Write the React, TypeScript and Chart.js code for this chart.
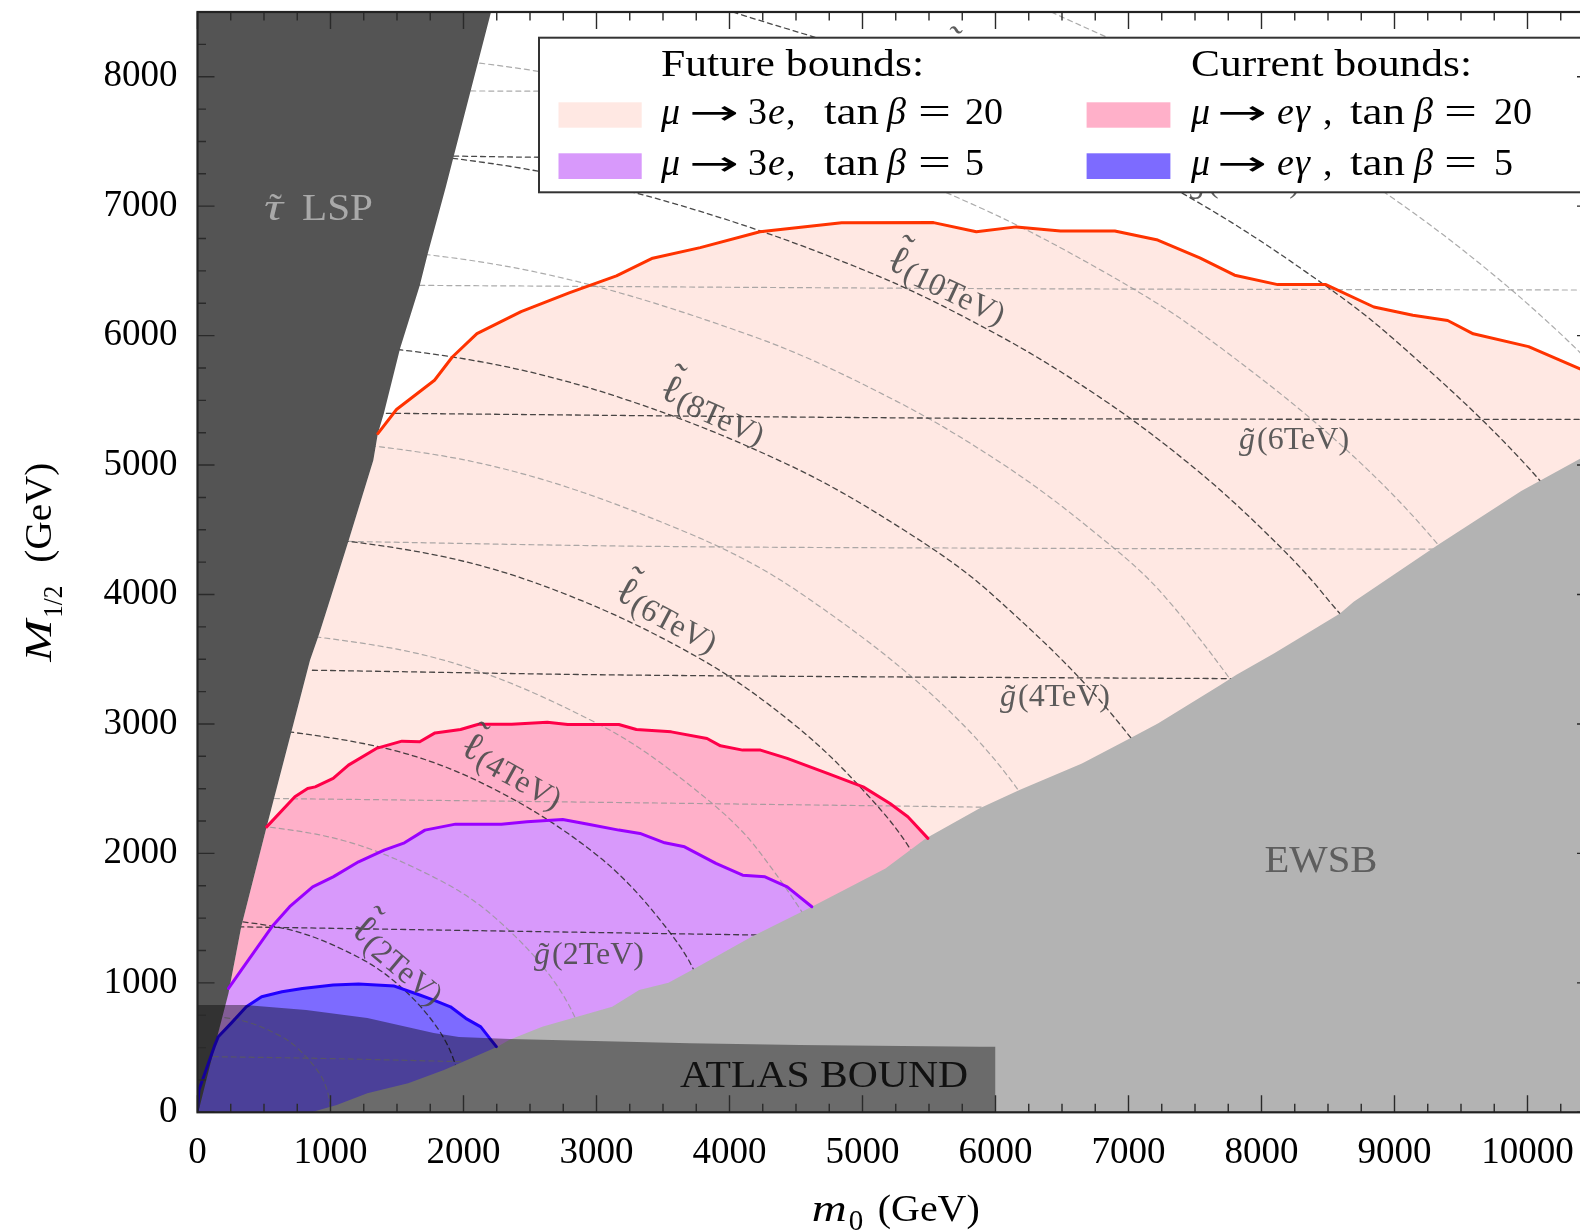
import React, { useEffect, useRef } from "react";
import { Chart, registerables } from "chart.js";

Chart.register(...registerables);

type P = [number, number];

// ---------------- axes ----------------
const X_MIN = 0;
const X_MAX = 10500;
const Y_MIN = 0;
const Y_MAX = 8500;
const xTickValues = [0, 1000, 2000, 3000, 4000, 5000, 6000, 7000, 8000, 9000, 10000];
const yTickValues = [0, 1000, 2000, 3000, 4000, 5000, 6000, 7000, 8000];
const MAJOR_STEP = 1000;
const MINOR_STEP = 250;

// ---------------- regions (m0 [GeV], M1/2 [GeV]) ----------------
const stauBoundary: P[] = [[0,0],[14,33],[129,507],[233,919],[329,1433],[520,2205],[781,3236],[846,3493],[916,3699],[1003,3981],[1137,4419],[1322,5037],[1356,5243],[1401,5398],[1523,5900],[1671,6388],[1731,6633],[1867,7148],[1925,7379],[2207,8500]];

const ewsbBoundary: P[] = [[855,0],[1047,56],[1277,147],[1584,224],[1853,327],[2083,429],[2255,507],[2342,558],[2592,661],[3118,815],[3321,944],[3541,1000],[3790,1140],[4166,1356],[4619,1588],[5173,1884],[5475,2116],[5878,2347],[6180,2489],[6650,2695],[6984,2875],[7221,3004],[7691,3300],[7812,3380],[8093,3544],[8590,3853],[8693,3945],[9331,4386],[9953,4800],[10395,5048],[10500,5110]];

const atlasBound: P[] = [[0,829],[357,829],[817,790],[1277,728],[1776,612],[1966,581],[2350,566],[3703,533],[4530,520],[5883,507],[6000,507],[6000,0]];

// ---------------- LFV bounds ----------------
const futureTan20: P[] = [[1356,5243],[1496,5429],[1782,5655],[1916,5835],[2101,6015],[2433,6185],[2794,6330],[3150,6462],[3422,6598],[3780,6680],[4229,6802],[4843,6872],[5534,6873],[5856,6803],[6157,6840],[6489,6808],[6897,6808],[7220,6738],[7536,6600],[7798,6467],[8122,6394],[8484,6394],[8845,6221],[9138,6157],[9400,6117],[9592,6014],[10008,5915],[10395,5744],[10500,5700]];

const currentTan20: P[] = [[520,2205],[732,2437],[828,2502],[885,2514],[1020,2579],[1135,2682],[1345,2811],[1537,2867],[1671,2862],[1786,2931],[1978,2957],[2113,2998],[2362,2998],[2630,3014],[2784,2996],[3168,2996],[3300,2957],[3562,2939],[3831,2888],[3932,2831],[4099,2798],[4233,2798],[4434,2734],[4737,2618],[5005,2514],[5207,2386],[5341,2283],[5492,2116]];

const futureTan5: P[] = [[233,957],[329,1099],[559,1433],[693,1588],[866,1742],[1020,1819],[1211,1935],[1403,2026],[1556,2082],[1710,2180],[1940,2226],[2285,2226],[2477,2244],[2746,2262],[2938,2226],[3168,2180],[3327,2154],[3513,2082],[3662,2051],[3898,1923],[4099,1832],[4267,1819],[4434,1742],[4619,1588]];

const currentTan5: P[] = [[0,18],[11,172],[126,507],[156,584],[252,687],[367,815],[482,893],[635,931],[789,957],[1020,983],[1211,991],[1480,975],[1671,906],[1776,867],[1902,815],[2017,726],[2130,660],[2208,558],[2247,507]];

// ---------------- iso-mass contours ----------------
// gluino (nearly horizontal)
const gluino1: P[] = [[117,430],[1000,415],[2100,388]];
const gluino2: P[] = [[310,1433],[2000,1405],[4300,1368]];
const gluino3: P[] = [[578,2424],[3000,2395],[6100,2355]];
const gluino4: P[] = [[864,3415],[3327,3377],[7800,3350]];
const gluino5: P[] = [[1140,4410],[3327,4373],[6034,4358],[9400,4350]];
const gluino6: P[] = [[1420,5400],[6034,5360],[10500,5352]];
const gluino7: P[] = [[1670,6388],[6034,6363],[10500,6352]];
const gluino8: P[] = [[1925,7387],[2568,7378],[10500,7340]];
const gluino9: P[] = [[2054,7890],[10500,7860]];

// slepton (arcs)
const slepton1: P[] = [[71,750],[365,700],[603,600],[747,500],[917,300],[980,150],[1000,0]];
const slepton2: P[] = [[141,1500],[730,1400],[1205,1200],[1494,1000],[1770,700],[1928,400],[2000,0]];
const slepton3: P[] = [[212,2250],[1095,2100],[1808,1800],[2241,1500],[2689,1000],[2925,500],[3000,0]];
const slepton4: P[] = [[283,3000],[1460,2800],[2224,2500],[2987,2000],[3467,1500],[3772,1000],[4000,0]];
const slepton5: P[] = [[353,3750],[1825,3500],[3013,3000],[3734,2500],[4234,2000],[4822,1000],[5000,0]];
const slepton6: P[] = [[424,4500],[1814,4300],[2774,4000],[3786,3500],[4481,3000],[4994,2500],[5378,2000],[5850,1000],[6000,0]];
const slepton7: P[] = [[495,5250],[2186,5000],[3630,4500],[4549,4000],[5751,3000],[6475,2000],[6871,1000],[7000,0]];
const slepton8: P[] = [[565,6000],[2120,5800],[3239,5500],[4447,5000],[5308,4500],[5975,4000],[6934,3000],[7545,2000],[8000,0]];
const slepton9: P[] = [[636,6750],[2503,6500],[4162,6000],[5243,5500],[6065,5000],[6721,4500],[7259,4000],[8000,3000],[8596,2000],[9000,0]];
const slepton10: P[] = [[707,7500],[2395,7300],[3650,7000],[5026,6500],[6027,6000],[6818,5500],[7468,5000],[8010,4500],[8468,4000],[9190,3000],[10000,0]];
const slepton11: P[] = [[777,8250],[2791,8000],[4637,7500],[5859,7000],[6802,6500],[7571,6000],[8762,5000],[9628,4000],[10251,3000]];
const slepton12: P[] = [[4025,8500],[5549,8000],[6671,7500],[7572,7000],[8323,6500],[8964,6000],[9989,5000],[10757,4000]];
const slepton13: P[] = [[6419,8500],[7469,8000],[8337,7500],[9073,7000],[9709,6500],[10263,6000],[10747,5500]];

const darkContours = [gluino2, gluino4, gluino6, gluino8, slepton2, slepton4, slepton6, slepton8, slepton10, slepton12];
const lightContours = [gluino1, gluino3, gluino5, gluino7, gluino9, slepton1, slepton3, slepton5, slepton7, slepton9, slepton11, slepton13];

// contour labels (position in GeV, rotation in degrees)
const sleptonLabels = [
  { text: "(2TeV)", x: 1508, y: 1176, rot: 40 },
  { text: "(4TeV)", x: 2365, y: 2636, rot: 29 },
  { text: "(6TeV)", x: 3530, y: 3840, rot: 28 },
  { text: "(8TeV)", x: 3876, y: 5423, rot: 24 },
  { text: "(10TeV)", x: 5635, y: 6388, rot: 25 },
  { text: "(12TeV)", x: 6004, y: 8010, rot: 23 },
];
const gluinoLabels = [
  { text: "(2TeV)", x: 2944, y: 1207 },
  { text: "(4TeV)", x: 6447, y: 3199 },
  { text: "(6TeV)", x: 8245, y: 5184 },
  { text: "(8TeV)", x: 7876, y: 7168 },
];
const regionLabels = {
  stau: { x: 910, y: 6890 },
  ewsb: { x: 8447, y: 1855 },
  atlas: { x: 4711, y: 195 },
};

// ---------------- styles ----------------
const C = {
  fut20Fill: "#ffe8e3",
  fut20Line: "#ff3300",
  cur20Fill: "#ffb0c9",
  cur20Line: "#ff0048",
  fut5Fill: "#d899fb",
  fut5Line: "#9a00ff",
  cur5Fill: "#7d6bff",
  cur5Line: "#2200ff",
  stau: "#545454",
  ewsb: "#b3b3b3",
  atlas: "rgba(0,0,0,0.4)",
  dark: "rgba(40,40,40,0.85)",
  light: "rgba(150,150,150,0.8)",
};

const FONT = "'Liberation Serif', 'Times New Roman', 'DejaVu Serif', serif";
const SYMFONT = "'DejaVu Sans', 'Liberation Serif', sans-serif";
const fnt = (size: number, italic = false, fam = FONT) => `${italic ? "italic " : ""}${size}px ${fam}`;

const pts = (a: P[]) => a.map(([x, y]) => ({ x, y }));
const stauBelow = (curve: P[]) => stauBoundary.filter((p) => p[0] < curve[0][0]);

function area(label: string, data: P[], color: string, fill: string, order: number) {
  return {
    label, data: pts(data), showLine: true, fill, backgroundColor: color,
    borderColor: "rgba(0,0,0,0)", borderWidth: 0, pointRadius: 0, pointHoverRadius: 0, tension: 0, order,
  };
}
function stroke(label: string, data: P[], color: string, width: number, order: number, dash: number[] = [], tension = 0) {
  return {
    label, data: pts(data), showLine: true, fill: false, borderColor: color, backgroundColor: color,
    borderWidth: width, borderDash: dash, pointRadius: 0, pointHoverRadius: 0, tension, order,
    borderJoinStyle: "round", borderCapStyle: "round",
  };
}

// ---------------- text helpers ----------------
type Tok = { s: string; at?: number; gap?: number; it?: boolean; size?: number; dy?: number; w?: number; tilde?: number; fam?: string };
type LTok = Tok & { size: number; m: number; w: number; x: number };

function layoutToks(ctx: CanvasRenderingContext2D, toks: Tok[], defSize: number) {
  let cx = 0;
  const items: LTok[] = [];
  for (const t of toks) {
    const size = t.size ?? defSize;
    ctx.font = fnt(size, !!t.it, t.fam ?? FONT);
    const m = ctx.measureText(t.s).width || 1;
    const w = t.w ?? m;
    const x = t.at !== undefined ? t.at : cx + (t.gap ?? 0);
    items.push({ ...t, size, m, w, x });
    cx = x + w;
  }
  return { items, width: cx };
}
function paintToks(ctx: CanvasRenderingContext2D, lay: { items: LTok[] }, x0: number, base: number) {
  ctx.textAlign = "left";
  ctx.textBaseline = "alphabetic";
  for (const it of lay.items) {
    const y = base + (it.dy ?? 0);
    ctx.font = fnt(it.size, !!it.it, it.fam ?? FONT);
    ctx.save();
    ctx.translate(x0 + it.x, y);
    ctx.scale(it.w / it.m, 1);
    ctx.fillText(it.s, 0, 0);
    ctx.restore();
    if (it.tilde !== undefined) {
      ctx.font = fnt(it.size, false);
      ctx.textAlign = "center";
      ctx.fillText("\u02DC", x0 + it.x + it.w / 2 + (it.it ? 2 : 0), y + it.tilde);
      ctx.textAlign = "left";
    }
  }
}

const ARROW: Tok = { s: "→", w: 50, size: 34, fam: SYMFONT, dy: 0 };
const row3e = (n: string): Tok[] => [
  { s: "μ", it: true, at: 0 }, { ...ARROW, at: 28 }, { s: "3", at: 87 }, { s: "e", it: true, at: 107 },
  { s: ",", at: 125 }, { s: "tan", at: 163, w: 55 }, { s: "β", it: true, at: 226 }, { s: "=", at: 257, w: 33 }, { s: n, at: 304 },
];
const rowEg = (n: string): Tok[] => [
  { s: "μ", it: true, at: 0 }, { ...ARROW, at: 26 }, { s: "e", it: true, at: 86 }, { s: "γ", it: true, at: 104 },
  { s: ",", at: 132 }, { s: "tan", at: 159, w: 55 }, { s: "β", it: true, at: 223 }, { s: "=", at: 253, w: 33 }, { s: n, at: 303 },
];

const decorPlugin = {
  id: "decor",
  afterDatasetsDraw(chart: any) {
    const ctx: CanvasRenderingContext2D = chart.ctx;
    const xs = chart.scales.x;
    const ys = chart.scales.y;
    const ca = chart.chartArea;
    const px = (v: number) => xs.getPixelForValue(v);
    const py = (v: number) => ys.getPixelForValue(v);

    ctx.save();
    ctx.beginPath();
    ctx.rect(ca.left, ca.top, ca.right - ca.left, ca.bottom - ca.top);
    ctx.clip();

    // region labels
    ctx.fillStyle = "#a9a9a9";
    let lay = layoutToks(ctx, [{ s: "τ", it: true, tilde: 0, w: 19 }, { s: "LSP", gap: 19, w: 71 }], 38);
    paintToks(ctx, lay, px(regionLabels.stau.x) - lay.width / 2, py(regionLabels.stau.y));
    ctx.fillStyle = "#5e5e5e";
    lay = layoutToks(ctx, [{ s: "EWSB", w: 113 }], 38);
    paintToks(ctx, lay, px(regionLabels.ewsb.x) - lay.width / 2, py(regionLabels.ewsb.y));
    ctx.fillStyle = "#111";
    lay = layoutToks(ctx, [{ s: "ATLAS BOUND", w: 288 }], 38);
    paintToks(ctx, lay, px(regionLabels.atlas.x) - lay.width / 2, py(regionLabels.atlas.y));

    // contour labels
    ctx.fillStyle = "rgba(75,75,75,0.9)";
    for (const l of sleptonLabels) {
      const L = layoutToks(ctx, [{ s: "ℓ", size: 40, tilde: -12 }, { s: l.text, size: 32, dy: 4, gap: 1 }], 32);
      ctx.save();
      ctx.translate(px(l.x), py(l.y));
      ctx.rotate((l.rot * Math.PI) / 180);
      paintToks(ctx, L, -L.width / 2, 10);
      ctx.restore();
    }
    for (const l of gluinoLabels) {
      const L = layoutToks(ctx, [{ s: "g", it: true, tilde: 0 }, { s: l.text, gap: 2 }], 32);
      paintToks(ctx, L, px(l.x) - L.width / 2, py(l.y) + 8);
    }
    ctx.restore();

    // legend
    ctx.save();
    const LG = { left: 539, top: 37.7, bottom: 192.3, right: 1640 };
    ctx.fillStyle = "#fff";
    ctx.fillRect(LG.left, LG.top, LG.right - LG.left, LG.bottom - LG.top);
    ctx.strokeStyle = "#333";
    ctx.lineWidth = 2;
    ctx.strokeRect(LG.left, LG.top, LG.right - LG.left, LG.bottom - LG.top);
    ctx.fillStyle = "#000";
    const cols = [
      { head: "Future bounds:", headW: 263, tx: 661, sx: 558.5, sw: 83.2, rows: [{ c: C.fut20Fill, t: row3e("20") }, { c: C.fut5Fill, t: row3e("5") }] },
      { head: "Current bounds:", headW: 281, tx: 1191, sx: 1086.6, sw: 83.8, rows: [{ c: C.cur20Fill, t: rowEg("20") }, { c: C.cur5Fill, t: rowEg("5") }] },
    ];
    const rowY = [{ top: 102.3, h: 25.4, base: 124 }, { top: 153.3, h: 25.7, base: 175 }];
    for (const col of cols) {
      ctx.fillStyle = "#000";
      paintToks(ctx, layoutToks(ctx, [{ s: col.head, w: col.headW }], 38), col.tx, 76);
      col.rows.forEach((r, i) => {
        ctx.fillStyle = r.c;
        ctx.fillRect(col.sx, rowY[i].top, col.sw, rowY[i].h);
        ctx.fillStyle = "#000";
        paintToks(ctx, layoutToks(ctx, r.t, 38), col.tx, rowY[i].base);
      });
    }
    ctx.restore();

    // frame and inward ticks
    ctx.save();
    ctx.strokeStyle = "#2a2a2a";
    ctx.lineWidth = 1.4;
    ctx.beginPath();
    for (let v = X_MIN; v <= X_MAX + 1e-6; v += MINOR_STEP) {
      const L = v % MAJOR_STEP === 0 ? 17 : 8.5;
      const p = px(v);
      ctx.moveTo(p, ca.bottom); ctx.lineTo(p, ca.bottom - L);
      ctx.moveTo(p, ca.top); ctx.lineTo(p, ca.top + L);
    }
    for (let v = Y_MIN; v <= Y_MAX + 1e-6; v += MINOR_STEP) {
      const L = v % MAJOR_STEP === 0 ? 17 : 8.5;
      const p = py(v);
      ctx.moveTo(ca.left, p); ctx.lineTo(ca.left + L, p);
      ctx.moveTo(ca.right, p); ctx.lineTo(ca.right - L, p);
    }
    ctx.stroke();
    ctx.strokeStyle = "#222";
    ctx.lineWidth = 2.2;
    ctx.strokeRect(ca.left, ca.top, ca.right - ca.left, ca.bottom - ca.top);
    ctx.restore();
  },
  afterDraw(chart: any) {
    const ctx: CanvasRenderingContext2D = chart.ctx;
    const ca = chart.chartArea;
    ctx.save();
    ctx.fillStyle = "#000";
    // x title
    const xl = layoutToks(ctx, [{ s: "m", it: true, w: 35 }, { s: "0", size: 29, dy: 9, at: 37 }, { s: "(GeV)", at: 66, w: 102 }], 38);
    paintToks(ctx, xl, (ca.left + ca.right) / 2 - xl.width / 2, 1221);
    // y title
    const yl = layoutToks(ctx, [{ s: "M", it: true, w: 42 }, { s: "1/2", size: 27, dy: 11, at: 44, w: 32 }, { s: "(GeV)", at: 99, w: 100 }], 38);
    ctx.translate(51, (ca.top + ca.bottom) / 2 + yl.width / 2);
    ctx.rotate(-Math.PI / 2);
    paintToks(ctx, yl, 0, 0);
    ctx.restore();
  },
};

export default function App() {
  const ref = useRef<HTMLCanvasElement>(null);
  useEffect(() => {
    const datasets: any[] = [
      area("μ→3e, tanβ=20 (future)", [...stauBelow(futureTan20), ...futureTan20], C.fut20Fill, "start", 100),
      area("μ→eγ, tanβ=20 (current)", [...stauBelow(currentTan20), ...currentTan20], C.cur20Fill, "start", 99),
      area("μ→3e, tanβ=5 (future)", [...stauBelow(futureTan5), ...futureTan5], C.fut5Fill, "start", 98),
      area("μ→eγ, tanβ=5 (current)", [...stauBelow(currentTan5), ...currentTan5], C.cur5Fill, "start", 97),
      ...lightContours.map((c, i) => stroke("light contour " + i, c, C.light, 1.2, 91, [5, 4], 0.35)),
      ...darkContours.map((c, i) => stroke("dark contour " + i, c, C.dark, 1.3, 90, [5, 4], 0.35)),
      area("stau LSP", stauBoundary, C.stau, "end", 80),
      area("EWSB", ewsbBoundary, C.ewsb, "start", 79),
      stroke("future tanβ=20", futureTan20, C.fut20Line, 3, 73),
      stroke("current tanβ=20", currentTan20, C.cur20Line, 3, 72),
      stroke("future tanβ=5", futureTan5, C.fut5Line, 3, 71),
      stroke("current tanβ=5", currentTan5, C.cur5Line, 3, 70),
      area("ATLAS bound", atlasBound, C.atlas, "start", 60),
    ];
    const tickFont = { family: FONT, size: 37 };
    const chart = new Chart(ref.current as HTMLCanvasElement, {
      type: "scatter",
      data: { datasets },
      options: {
        responsive: false,
        maintainAspectRatio: false,
        animation: false,
        devicePixelRatio: 1,
        events: [],
        layout: { padding: { top: 12, right: 6, left: 0, bottom: 0 } },
        plugins: { legend: { display: false }, tooltip: { enabled: false }, title: { display: false } },
        scales: {
          x: {
            type: "linear", min: X_MIN, max: X_MAX,
            grid: { display: false, drawTicks: false }, border: { display: false },
            ticks: { font: tickFont, color: "#000", padding: 19, maxRotation: 0, minRotation: 0, autoSkip: false, callback: (v: any) => String(v) },
            afterBuildTicks: (s: any) => { s.ticks = xTickValues.map((value) => ({ value })); },
            afterFit: (s: any) => { s.height = 118.7; s.paddingLeft = 0; s.paddingRight = 0; },
          },
          y: {
            type: "linear", min: Y_MIN, max: Y_MAX,
            grid: { display: false, drawTicks: false }, border: { display: false },
            ticks: { font: tickFont, color: "#000", padding: 20, autoSkip: false, callback: (v: any) => String(v) },
            afterBuildTicks: (s: any) => { s.ticks = yTickValues.map((value) => ({ value })); },
            afterFit: (s: any) => { s.width = 197.5; s.paddingTop = 0; s.paddingBottom = 0; },
          },
        },
      } as any,
      plugins: [decorPlugin],
    });
    return () => chart.destroy();
  }, []);
  return (
    <div style={{ position: "absolute", left: 0, top: 0, width: 1580, height: 1231, overflow: "hidden", background: "#fff" }}>
      <canvas ref={ref} width={1600} height={1231} style={{ display: "block", width: 1600, height: 1231 }} />
    </div>
  );
}
